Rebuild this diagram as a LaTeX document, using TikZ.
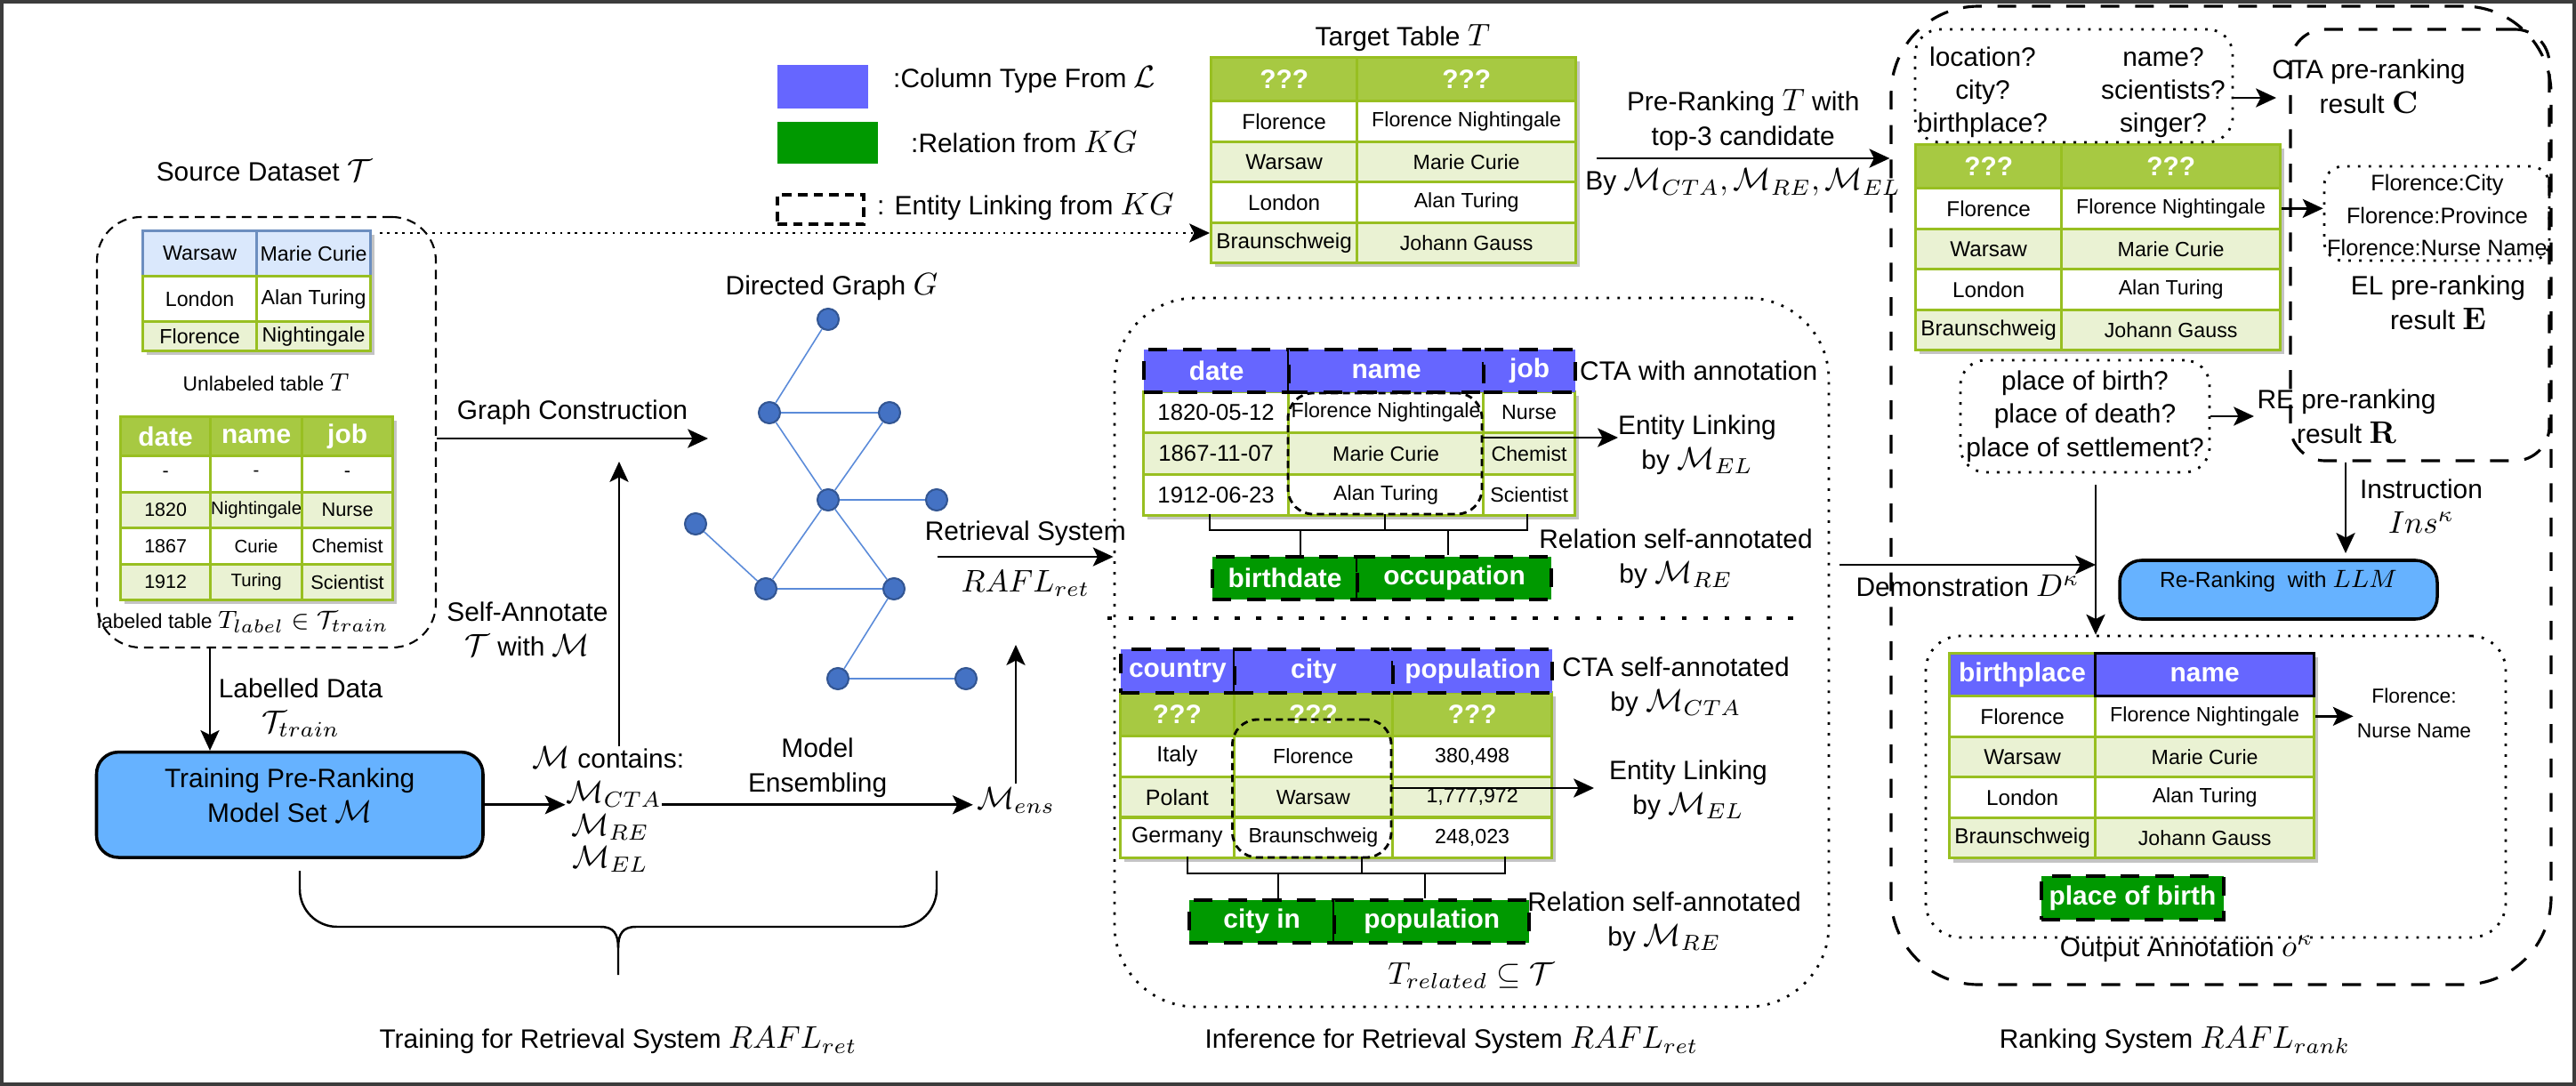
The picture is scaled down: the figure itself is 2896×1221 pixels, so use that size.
\documentclass[tikz,border=0pt]{standalone}
\usepackage[no-math]{fontspec}
\setmainfont{Liberation Sans}
\usetikzlibrary{arrows.meta,fit}

\DeclareMathSizes{8.5}{10.2}{7.2}{5.5}
\DeclareMathSizes{7}{8.4}{6}{5}
\DeclareMathSizes{6.5}{7.6}{5.6}{4.5}

\definecolor{tgreen}{HTML}{A7C942}
\definecolor{tborder}{HTML}{98BF21}
\definecolor{tlight}{HTML}{EAF2D3}
\definecolor{hblue}{HTML}{6666FF}
\definecolor{relgreen}{HTML}{009900}
\definecolor{procblue}{HTML}{66B2FF}
\definecolor{ublue}{HTML}{DAE8FC}
\definecolor{uborder}{HTML}{6C8EBF}
\definecolor{gnode}{HTML}{4472C4}
\definecolor{gedge}{HTML}{5B8BD9}
\definecolor{tshadow}{HTML}{C4C4C4}
\definecolor{edgegray}{HTML}{3C3C3C}

\begin{document}
\begin{tikzpicture}[x=0.01cm, y=-0.01cm, >={Stealth[length=6.5pt,width=6pt,inset=1.5pt]},
  lbl/.style={align=center, font=\fontsize{8.5}{11}\selectfont, inner sep=1pt},
  smalllbl/.style={align=center, font=\fontsize{6.5}{8}\selectfont, inner sep=1pt},
  arr/.style={->, line width=0.75pt},
  thinarr/.style={->, line width=0.6pt},
  cell/.style={draw=tborder, line width=0.9pt, anchor=north west, inner sep=0pt, font=\fontsize{6.6}{8}\selectfont},
  firstcol/.style={cell, font=\fontsize{6.9}{8}\selectfont},
  headcell/.style={cell, fill=tgreen, text=white, font=\bfseries\fontsize{8.5}{10}\selectfont},
  ctacell/.style={headcell, fill=hblue, draw=black, line width=1.2pt, dash pattern=on 6pt off 5pt},
  relbox/.style={ctacell, fill=relgreen},
  procbox/.style={draw=black, line width=1pt, fill=procblue, rounded corners=7pt, inner sep=0pt, align=center},
  dashbox/.style={draw, line width=0.6pt, dash pattern=on 3pt off 2pt, inner sep=0pt},
  eldash/.style={dashbox, line width=0.8pt, dash pattern=on 2.3pt off 1.5pt, rounded corners=8pt},
  dotbox/.style={draw, line width=0.8pt, dash pattern=on 0.8pt off 2.6pt, inner sep=0pt},
  rankdash/.style={draw, line width=0.9pt, dash pattern=on 6pt off 5pt, inner sep=0pt},
  sepdots/.style={line width=1.3pt, dash pattern=on 1.5pt off 5.3pt},
  gdot/.style={circle, fill=gnode, draw=gnode!75!black, line width=0.6pt, minimum size=0.24cm, inner sep=0pt},
  gline/.style={draw=gedge, line width=0.45pt},
  barline/.style={line width=0.7pt}
]
\useasboundingbox (0,0) rectangle (2896,1221);
\draw[edgegray, line width=1pt] (2,2) rectangle (2894,1219);

% source dataset
\node[lbl] (srctitle) at (297,192) {Source Dataset $\mathcal{T}$};
\node[dashbox, rounded corners=14pt, fit={(109,244) (490,728)}] (srcbox) {};
\fill[tshadow] (165,264) rectangle (421,399);
\foreach \a/\b/\y/\h/\fc/\bc [count=\r] in {Warsaw/Marie Curie/258/0.51/ublue/uborder, London/Alan Turing/309/0.51/white/tborder, Florence/Nightingale/360/0.33/tlight/tborder} {
  \node[cell, fill=\fc, draw=\bc, minimum width=1.28cm, minimum height=\h cm] (ut-\r-1) at (159,\y) {\a};
  \node[cell, fill=\fc, draw=\bc, minimum width=1.28cm, minimum height=\h cm] (ut-\r-2) at (287,\y) {\b};
}
\node[smalllbl] (utlbl) at (299,430) {Unlabeled table $T$};
\fill[tshadow] (140,473) rectangle (446,679);
\foreach \a/\b/\c [count=\r] in {-/-/-, 1820/Nightingale/Nurse, 1867/Curie/Chemist, 1912/Turing/Scientist} {
  \ifodd\r\def\rowfill{white}\else\def\rowfill{tlight}\fi
  \node[cell, font=\fontsize{6.1}{7}\selectfont, fill=\rowfill, minimum width=1.01cm, minimum height=0.405cm] (lt-\r-1) at (134,{511+40.5*(\r-1)}) {\a};
  \node[cell, font=\fontsize{5.8}{7}\selectfont, fill=\rowfill, minimum width=1.03cm, minimum height=0.405cm] (lt-\r-2) at (235,{511+40.5*(\r-1)}) {\b};
  \node[cell, font=\fontsize{6.2}{7}\selectfont, fill=\rowfill, minimum width=1.02cm, minimum height=0.405cm] (lt-\r-3) at (338,{511+40.5*(\r-1)}) {\c};
}
\foreach \t/\x/\w [count=\c] in {date/134/1.01, name/235/1.03, job/338/1.02}
  \node[headcell, minimum width=\w cm, minimum height=0.44cm] (lt-0-\c) at (\x,467) {\t};
\node[smalllbl] (ltlbl) at (273,699) {labeled table $T_{label} \in \mathcal{T}_{train}$};

% training
\node[procbox, fit={(108.5,845.6) (543,964)}, font=\fontsize{8.5}{11}\selectfont] (trainbox) {Training Pre-Ranking\\Model Set $\mathcal{M}$};
\node[lbl] (ldlbl) at (338,796) {Labelled Data\\$\mathcal{T}_{train}$};
\node[lbl] (salbl) at (593,707) {Self-Annotate\\$\mathcal{T}$ with $\mathcal{M}$};
\node[lbl, inner sep=0pt] (mcont) at (684,852) {$\mathcal{M}$ contains:};
\node[lbl, inner sep=0pt] (mcta) at (690,893) {$\mathcal{M}_{CTA}$};
\node[lbl, inner sep=0pt] (mre) at (686,930) {$\mathcal{M}_{RE}$};
\node[lbl, inner sep=0pt] (mel) at (686,966) {$\mathcal{M}_{EL}$};
\node[lbl] (mens) at (1142,900) {$\mathcal{M}_{ens}$};
\node[lbl] (trainlbl) at (695,1170) {Training for Retrieval System $RAFL_{ret}$};

% graph
\node[lbl] (gtitle) at (935,323) {Directed Graph $G$};
\foreach \n/\x/\y in {g1/931/359, g2/865/464, g3/1000/464, g4/931/562, g5/1053/562, g6/782/589, g7/861/662, g8/1005/662, g9/942/763, g10/1086/763}
  \node[gdot] (\n) at (\x,\y) {};
\foreach \p/\q in {g1/g2, g2/g3, g2/g4, g3/g4, g4/g5, g4/g7, g4/g8, g6/g7, g7/g8, g8/g9, g9/g10}
  \draw[gline] (\p) -- (\q);

% legend
\node[fill=hblue, inner sep=0pt, fit={(874,73) (976,122)}] (legcta) {};
\node[lbl, anchor=west] (legctalbl) at (1000,90) {:Column Type From $\mathcal{L}$};
\node[fill=relgreen, inner sep=0pt, fit={(874,137) (987,184)}] (legre) {};
\node[lbl, anchor=west] (legrelbl) at (1020,160) {:Relation from $KG$};
\node[dashbox, line width=0.9pt, fit={(874,219) (971,252)}] (legel) {};
\node[lbl, anchor=west] (legellbl) at (982,233) {: Entity Linking from $KG$};

% target table and ranking tables
\node[lbl] (tttitle) at (1577,43) {Target Table $T$};
\fill[tshadow] (1366,69) rectangle (1776,300);
\fill[tshadow] (2158,167) rectangle (2568,398);
\fill[tshadow] (2196,739) rectangle (2606,970);
\foreach \tb/\x/\y in {tt/1360/63, rk/2152/161} {
  \node[headcell, minimum width=1.64cm, minimum height=0.49cm] (\tb-0-1) at (\x,\y) {???};
  \node[headcell, minimum width=2.46cm, minimum height=0.49cm] (\tb-0-2) at ({\x+164},\y) {???};
}
\node[cell, fill=hblue, text=white, font=\bfseries\fontsize{8.5}{10}\selectfont, minimum width=1.64cm, minimum height=0.48cm] (ot-0-1) at (2190,733) {birthplace};
\foreach \tb/\x/\y in {tt/1360/112, rk/2152/210, ot/2190/781} {
  \foreach \a/\b [count=\r] in {Florence/Florence Nightingale, Warsaw/Marie Curie, London/Alan Turing, Braunschweig/Johann Gauss} {
    \ifodd\r\def\rowfill{white}\else\def\rowfill{tlight}\fi
    \node[firstcol, fill=\rowfill, minimum width=1.64cm, minimum height=0.455cm] (\tb-\r-1) at (\x,{\y+45.5*(\r-1)}) {\a};
    \node[cell, fill=\rowfill, minimum width=2.46cm, minimum height=0.455cm] (\tb-\r-2) at ({\x+164},{\y+45.5*(\r-1)}) {\b};
  }
}
\node[cell, fill=hblue, draw=black, text=white, font=\bfseries\fontsize{8.5}{10}\selectfont, minimum width=2.46cm, minimum height=0.48cm] (ot-0-2) at (2354,733) {name};

% inference
\node[dotbox, rounded corners=26pt, fit={(1253,335) (2056,1132)}] (infbox) {};
\draw[sepdots] (1245,695) -- (2025,695);
\fill[tshadow] (1290,445) rectangle (1775,584);
\foreach \a/\b/\c [count=\r] in {1820-05-12/Florence Nightingale/Nurse, 1867-11-07/Marie Curie/Chemist, 1912-06-23/Alan Turing/Scientist} {
  \ifodd\r\def\rowfill{white}\else\def\rowfill{tlight}\fi
  \node[firstcol, font=\fontsize{7.3}{8}\selectfont, fill=\rowfill, minimum width=1.63cm, minimum height=0.463cm] (ct-\r-1) at (1284,{439+46.3*(\r-1)}) {\a};
  \node[cell, fill=\rowfill, minimum width=2.19cm, minimum height=0.463cm] (ct-\r-2) at (1447,{439+46.3*(\r-1)}) {\b};
  \node[cell, fill=\rowfill, minimum width=1.03cm, minimum height=0.463cm] (ct-\r-3) at (1666,{439+46.3*(\r-1)}) {\c};
}
\foreach \t/\x/\w [count=\c] in {date/1284/1.63, name/1447/2.19, job/1666/1.03}
  \node[ctacell, minimum width=\w cm, minimum height=0.48cm] (ct-0-\c) at (\x,391) {\t};
\node[eldash, fit={(1448,442) (1666,578)}] (ctel) {};
\node[lbl, anchor=west] (ctalbl) at (1772,417) {CTA with annotation};
\node[lbl] (ctellbl) at (1908,500) {Entity Linking\\by $\mathcal{M}_{EL}$};
\node[relbox, minimum width=1.627cm, minimum height=0.477cm] (rel1) at (1361,624) {birthdate};
\node[relbox, minimum width=2.183cm, minimum height=0.477cm] (rel2) at (1523.7,624) {occupation};
\node[lbl] (ctrelbl) at (1884,628) {Relation self-annotated\\by $\mathcal{M}_{RE}$};

\fill[tshadow] (1264,783) rectangle (1749,969);
\foreach \a/\b/\c [count=\r] in {Italy/Florence/380{,}498, Polant/Warsaw/1{,}777{,}972, Germany/Braunschweig/248{,}023} {
  \ifodd\r\def\rowfill{white}\else\def\rowfill{tlight}\fi
  \node[firstcol, font=\fontsize{7.1}{8}\selectfont, fill=\rowfill, minimum width=1.275cm, minimum height=0.457cm] (rt-\r-1) at (1258,{826+45.7*(\r-1)}) {\a};
  \node[cell, fill=\rowfill, minimum width=1.785cm, minimum height=0.457cm] (rt-\r-2) at (1385.5,{826+45.7*(\r-1)}) {\b};
  \node[cell, fill=\rowfill, minimum width=1.79cm, minimum height=0.457cm] (rt-\r-3) at (1564,{826+45.7*(\r-1)}) {\c};
}
\foreach \x/\w [count=\c] in {1258/1.275, 1385.5/1.785, 1564/1.79}
  \node[headcell, minimum width=\w cm, minimum height=0.49cm] (rt-q-\c) at (\x,777) {???};
\foreach \t/\x/\w [count=\c] in {country/1258/1.275, city/1385.5/1.785, population/1564/1.79}
  \node[ctacell, minimum width=\w cm, minimum height=0.49cm] (rt-0-\c) at (\x,728) {\t};
\node[eldash, fit={(1385.5,809) (1564,964)}] (rtel) {};
\node[lbl] (rtctalbl) at (1884,772) {CTA self-annotated\\by $\mathcal{M}_{CTA}$};
\node[lbl] (rtellbl) at (1898,888) {Entity Linking\\by $\mathcal{M}_{EL}$};
\node[relbox, minimum width=1.63cm, minimum height=0.48cm] (rel3) at (1335,1010) {city in};
\node[relbox, minimum width=2.19cm, minimum height=0.48cm] (rel4) at (1498,1010) {population};
\node[lbl] (rtrelbl) at (1871,1036) {Relation self-annotated\\by $\mathcal{M}_{RE}$};
\node[lbl] (rellbl) at (1654,1097) {$T_{related} \subseteq \mathcal{T}$};
\node[lbl] (inflbl) at (1632,1170) {Inference for Retrieval System $RAFL_{ret}$};

% ranking system
\node[rankdash, rounded corners=28pt, fit={(2126,7) (2868,1107)}] (rankbox) {};
\node[rankdash, rounded corners=11pt, fit={(2575,33) (2866,518)}] (resbox) {};
\node[dotbox, rounded corners=8pt, fit={(2153,33) (2510,160)}] (ctaq) {};
\node[lbl, font=\fontsize{8.5}{10.5}\selectfont] (ctaq1) at (2229,104) {location?\\city?\\birthplace?};
\node[lbl, font=\fontsize{8.5}{10.5}\selectfont] (ctaq2) at (2432,104) {name?\\scientists?\\singer?};
\node[lbl] (ctares) at (2663,97) {CTA pre-ranking\\result $\mathbf{C}$};
\node[dotbox, rounded corners=6pt, fit={(2613,187) (2866,293)}] (elq) {};
\node[lbl, font=\fontsize{7.2}{10.4}\selectfont] (elqtxt) at (2740,242) {Florence:City\\Florence:Province\\Florence:Nurse Name};
\node[lbl] (elres) at (2741,340) {EL pre-ranking\\result $\mathbf{E}$};
\node[dotbox, rounded corners=8pt, fit={(2204,405) (2484,531)}] (req) {};
\node[lbl, font=\fontsize{8.5}{10.6}\selectfont] (reqtxt) at (2344,468) {place of birth?\\place of death?\\place of settlement?};
\node[lbl] (reres) at (2638,468) {RE pre-ranking\\result $\mathbf{R}$};
\node[procbox, fit={(2383,630) (2740,696)}, font=\fontsize{7}{9}\selectfont] (rerank) {Re-Ranking\ \ with $LLM$};
\node[lbl] (instlbl) at (2722,569) {Instruction\\$Ins^{\kappa}$};
\node[dotbox, rounded corners=11pt, fit={(2165,715) (2817,1054)}] (outbox) {};
\node[relbox, minimum width=2.045cm, minimum height=0.49cm] (ob) at (2293,983) {place of birth};
\node[smalllbl, font=\fontsize{6.5}{11}\selectfont] (otlbl) at (2714,802) {Florence:\\Nurse Name};
\node[lbl] (outlbl) at (2458,1067) {Output Annotation $o^{\kappa}$};
\node[lbl] (ranklbl) at (2445,1170) {Ranking System $RAFL_{rank}$};

% connectors
\coordinate (gcend) at (796,493);
\draw[arr] (srcbox.east |- gcend) -- (gcend) node[lbl, midway, above=3pt] {Graph Construction};
\coordinate (ldx) at (236,0);
\draw[thinarr] (srcbox.south -| ldx) -- (trainbox.north -| ldx);
\draw[arr] (trainbox.east) -- (trainbox.east -| mcta.west);
\draw[arr] (mcta.east |- trainbox.east) -- (mens.west |- trainbox.east) node[lbl, midway, above=1pt] {Model\\Ensembling};
\coordinate (satip) at (696,519);
\draw[thinarr] (mcont.north -| satip) -- (satip);
\coordinate (enstip) at (1142,725);
\draw[thinarr] (mens.north -| enstip) -- (enstip);
\coordinate (retstart) at (1054,626);
\draw[arr] (retstart) -- (retstart -| infbox.west) node[lbl, midway, above=2pt] {Retrieval System} node[lbl, midway, below=3pt] {$RAFL_{ret}$};
\draw[barline, rounded corners=12pt] (337,979) -- (337,1042) -- (675,1042);
\draw[barline] (675,1042) .. controls (690,1042) and (695,1050) .. (695,1066) -- (695,1096);
\draw[barline, rounded corners=12pt] (1053,979) -- (1053,1042) -- (715,1042);
\draw[barline] (715,1042) .. controls (700,1042) and (695,1050) .. (695,1066);
\coordinate (dotstart) at (427,262);
\draw[->, line width=0.8pt, dash pattern=on 0.8pt off 1.6pt] (dotstart) -- (dotstart -| tt-4-1.west);
\coordinate (prestart) at (1795,178);
\draw[arr] (prestart) -- (prestart -| rankbox.west) node[lbl, midway, above=1pt] {Pre-Ranking $T$ with\\top-3 candidate} node[lbl, midway, below=2pt] {By $\mathcal{M}_{CTA},\mathcal{M}_{RE},\mathcal{M}_{EL}$};

\coordinate (ctelend) at (1819,492);
\draw[arr] (ctelend -| ctel.east) -- (ctelend);
\coordinate (ctb1) at (1360,578);
\coordinate (ctb2) at (1557,578);
\coordinate (ctb3) at (1717,578);
\coordinate (ctbar) at (1540,596);
\draw[barline] (ctb1) |- (ctbar) -| (ctb3);
\draw[barline] (ctb2) -- (ctb2 |- ctbar);
\coordinate (ctd1) at (1462,624);
\coordinate (ctd2) at (1628,624);
\draw[barline] (ctd1 |- ctbar) -- (ctd1);
\draw[barline] (ctd2 |- ctbar) -- (ctd2);

\coordinate (rtelend) at (1792,886);
\draw[arr] (rtelend -| rtel.east) -- (rtelend);
\coordinate (rtb1) at (1335,963);
\coordinate (rtb2) at (1531,963);
\coordinate (rtb3) at (1692,963);
\coordinate (rtbar) at (1500,982);
\draw[barline] (rtb1) |- (rtbar) -| (rtb3);
\draw[barline] (rtb2) -- (rtb2 |- rtbar);
\coordinate (rtd1) at (1437,1010);
\coordinate (rtd2) at (1602,1010);
\draw[barline] (rtd1 |- rtbar) -- (rtd1);
\draw[barline] (rtd2 |- rtbar) -- (rtd2);

\coordinate (ctaqend) at (2559,110);
\draw[arr] (ctaqend -| ctaq.east) -- (ctaqend);
\draw[arr] (rk-1-2.east) -- (rk-1-2.east -| elq.west);
\coordinate (reend) at (2534,468);
\draw[arr] (req.east) -- (reend);
\coordinate (inst) at (2637,622);
\draw[arr] (resbox.south -| inst) -- (inst);
\coordinate (vtop) at (2356,545);
\draw[arr] (vtop) -- (vtop |- outbox.north);
\coordinate (demostart) at (2068,635);
\draw[arr] (demostart) -- (demostart -| vtop) node[lbl, midway, below=2pt] {Demonstration $D^{\kappa}$};
\draw[arr] (ot-1-2.east) -- (ot-1-2.east -| otlbl.west);
\end{tikzpicture}
\end{document}
